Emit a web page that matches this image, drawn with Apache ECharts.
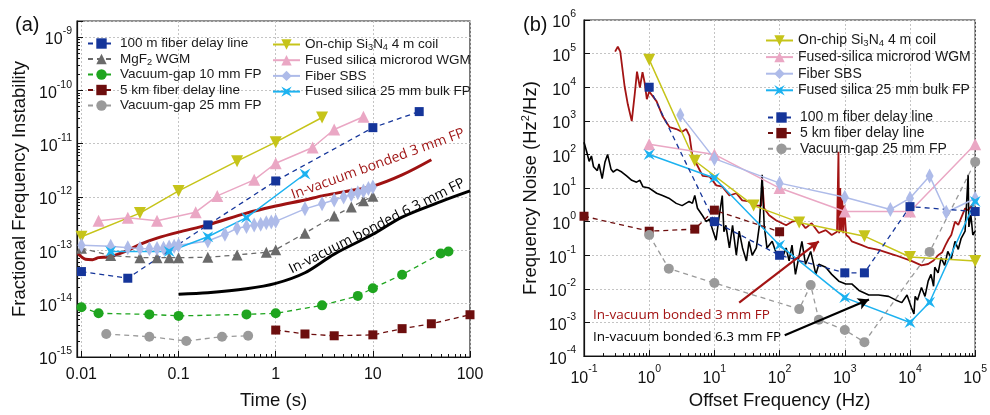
<!DOCTYPE html>
<html><head><meta charset="utf-8">
<script src="https://cdn.jsdelivr.net/npm/echarts@6/dist/echarts.min.js"></script>
<style>html,body{margin:0;padding:0;background:#fff}#c{width:990px;height:415px}</style>
</head><body><div id="c"></div>
<script>
// ===== Panel (a): fractional frequency instability vs time =====
const a_xTickVals = [0.01, 0.1, 1, 10, 100];
const a_xTickLabels = ['0.01', '0.1', '1', '10', '100'];
const a_yTickExps = [-15, -14, -13, -12, -11, -10, -9];

const a_fiber100_t = [0.01, 0.03, 0.2, 1, 10, 30];
const a_fiber100_v = [4e-14, 3e-14, 3e-13, 2e-12, 2e-11, 4e-11];
const a_mgf2_t = [0.01, 0.02, 0.04, 0.06, 0.08, 0.1, 0.2, 0.4, 0.8, 1, 2, 4, 6, 8, 10];
const a_mgf2_v = [1.1e-13, 8e-14, 7.3e-14, 7.3e-14, 7.3e-14, 7.3e-14, 7.4e-14, 8.2e-14, 9.2e-14, 1.03e-13, 2.1e-13, 4.4e-13, 6.5e-13, 8.5e-13, 1.03e-12];
const a_vg10_t = [0.01, 0.015, 0.05, 0.1, 0.5, 1, 3, 7, 10, 20, 50, 60];
const a_vg10_v = [8.6e-15, 6.6e-15, 6.3e-15, 5.9e-15, 6.3e-15, 6.6e-15, 9.3e-15, 1.4e-14, 1.95e-14, 3.5e-14, 8.7e-14, 9.5e-14];
const a_fiber5k_t = [1, 2, 4, 10, 20, 40, 100];
const a_fiber5k_v = [3.2e-15, 2.7e-15, 2.5e-15, 2.6e-15, 3.4e-15, 4.2e-15, 6.2e-15];
const a_vg25_t = [0.018, 0.05, 0.12, 0.28, 0.52];
const a_vg25_v = [2.7e-15, 2.4e-15, 2e-15, 2.4e-15, 2.5e-15];
const a_sin_t = [0.01, 0.04, 0.1, 0.4, 1, 3];
const a_sin_v = [1.8e-13, 5e-13, 1.3e-12, 4.7e-12, 1.07e-11, 3.1e-11];
const a_rod_t = [0.015, 0.03, 0.06, 0.15, 0.25, 0.6, 1, 2.4, 4, 8];
const a_rod_v = [3.6e-13, 4.1e-13, 3.6e-13, 5.2e-13, 1.05e-12, 2.1e-12, 4.3e-12, 8.5e-12, 1.85e-11, 3.2e-11];
const a_sbs_t = [0.01, 0.02, 0.03, 0.04, 0.05, 0.06, 0.07, 0.08, 0.09, 0.1, 0.2, 0.3, 0.4, 0.5, 0.6, 0.7, 0.8, 0.9, 1, 2, 3, 4, 5, 6, 7, 8, 9, 10];
const a_sbs_v = [1.25e-13, 1.2e-13, 1.12e-13, 1.08e-13, 1.07e-13, 1.08e-13, 1.1e-13, 1.15e-13, 1.2e-13, 1.25e-13, 1.5e-13, 2.0e-13, 2.6e-13, 2.8e-13, 3.0e-13, 3.1e-13, 3.3e-13, 3.4e-13, 3.5e-13, 6.0e-13, 7.5e-13, 8.8e-13, 1.0e-12, 1.1e-12, 1.2e-12, 1.3e-12, 1.45e-12, 1.55e-12];
const a_fs25_t = [0.02, 0.08, 0.2, 0.5, 2];
const a_fs25_v = [9.5e-14, 9.5e-14, 1.8e-13, 4.1e-13, 2.7e-12];
const a_bond3_t = [0.0092, 0.011, 0.013, 0.015, 0.02, 0.03, 0.04, 0.06, 0.1, 0.2, 0.5, 1, 2, 3, 5, 10, 20, 40];
const a_bond3_v = [8.7e-14, 6.8e-14, 6.7e-14, 7.3e-14, 7.6e-14, 1.0e-13, 1.3e-13, 1.7e-13, 2.2e-13, 3e-13, 5e-13, 6.8e-13, 8.8e-13, 1.05e-12, 1.25e-12, 1.6e-12, 2.6e-12, 5e-12];
const a_bond6_t = [0.1, 0.2, 0.5, 1, 2, 4, 10, 20, 50, 100];
const a_bond6_v = [1.5e-14, 1.6e-14, 1.9e-14, 2.4e-14, 3.8e-14, 8.5e-14, 2e-13, 4.2e-13, 8.2e-13, 1.3e-12];

// ===== Panel (b): frequency noise vs offset frequency =====
const b_xTickExps = [-1, 0, 1, 2, 3, 4, 5];
const b_yTickExps = [-4, -3, -2, -1, 0, 1, 2, 3, 4, 5, 6];

const b_sin_f = [1, 5, 40, 200, 2000, 1e4, 1e5];
const b_sin_v = [6.6e4, 65, 3, 0.95, 0.37, 0.089, 0.068];
const b_rod_f = [1, 10, 100, 1000, 1e4, 1e5];
const b_rod_v = [200, 100, 10, 2, 2, 200];
const b_sbs_f = [3, 10, 100, 1000, 5000, 1e4, 2e4, 3.6e4, 1e5];
const b_sbs_v = [1500, 75, 14, 5.3, 2.3, 5, 23, 1.9, 4.9];
const b_fs25_f = [1, 10, 100, 1000, 1e4, 2e4, 1e5];
const b_fs25_v = [100, 20, 0.2, 0.0055, 0.001, 0.004, 4];
const b_fiber100_f = [1, 10, 100, 1000, 2000, 1e4, 1e5];
const b_fiber100_v = [1e4, 1, 0.1, 0.03, 0.03, 2.8, 2];
const b_fiber5k_f = [0.1, 1, 5, 10, 100];
const b_fiber5k_v = [1.45, 0.52, 0.6, 2.2, 0.5];
const b_vg25_f = [1, 2, 10, 200, 300, 400, 1000, 2000, 2e4, 1e5];
const b_vg25_v = [0.4, 0.04, 0.015, 0.0025, 0.013, 0.0012, 6e-4, 2.6e-4, 0.126, 60];
const b_bond3_f = [0.30,0.33,0.36,0.42,0.47,0.54,0.60,0.65,0.72,0.79,0.85,0.92,1.0,1.3,1.6,2.05,2.6,3.2,3.7,4.15,4.6,5.5,6.6,8.4,10.7,13.2,17,21.7,26.7,34,44,52,55,58,69,88,126,155,200,250,310,400,510,630,760,800,820,850,880,910,950,980,1050,1150,1280,1820,2330,3300,6000,10500,15000,19000,23000,27000,31000,35000,39000,43000,49000,55000,61000,70000,78000,88000,100000];
const b_bond3_v = [1.15e5,1.6e5,1.15e5,1.05e4,3.1e3,980,6.2e3,2.9e4,9.8e3,2.8e4,1.4e4,4.4e3,7.5e3,3.8e3,1.4e3,650,570,470,570,355,91,46,23,22,12,11,6,7,4.3,4,3,3,11,2.5,1.55,1.1,0.78,1.0,1.1,0.64,0.9,0.46,0.56,0.4,0.5,120,0.45,10,0.5,6,0.45,3,0.4,0.35,0.26,0.2,0.165,0.144,0.1,0.068,0.05,0.055,0.07,0.1,0.12,0.2,0.3,0.4,1.0,0.8,1.3,2.5,2.2,3,4];
const b_bond6_f = [0.10,0.11,0.12,0.13,0.14,0.16,0.17,0.19,0.21,0.23,0.26,0.28,0.32,0.38,0.45,0.54,0.64,0.72,0.8,1.0,1.3,1.6,2.0,2.6,3.2,4.1,4.6,5.0,5.5,6.6,7.5,8.4,9.3,10.6,11.9,13.2,14,15,17,19,21.7,24,27,31,34,38,44,49,54,58,64,77,91,110,126,140,155,175,200,220,250,300,360,400,510,630,810,1035,1280,1650,2330,3300,4700,6000,7500,9000,10500,11500,12000,13000,15000,17000,19000,21000,23000,24000,27000,30000,34000,38000,43000,49000,55000,61000,70000,78000,80000,86000,92000,100000];
const b_bond6_v = [230,120,62,90,43,33,52,19,60,100,36,30,36,30,23,17,15,17,11,10,7,6,5,3.5,3,4,3.5,6,2.5,1.5,1.0,1.2,0.6,0.28,1.55,6,0.5,0.78,0.165,0.78,0.1,0.52,0.165,0.068,0.26,0.1,0.165,0.78,25,0.78,0.165,0.26,0.1,0.085,0.165,0.068,0.2,0.027,0.1,0.26,0.054,0.13,0.027,0.054,0.044,0.027,0.017,0.014,0.014,0.009,0.0066,0.0066,0.006,0.0047,0.0039,0.0066,0.0028,0.0018,0.006,0.0046,0.011,0.006,0.017,0.027,0.012,0.044,0.03,0.085,0.05,0.13,0.08,0.26,0.15,0.32,0.52,25,0.7,1.55,0.4,0.52];

// annotation arrows (data coordinates: start -> tip)
const b_arrow3 = [[24, 0.0039], [400, 0.26]];
const b_arrow6 = [[120, 4.2e-4], [2350, 0.0048]];

// ===== styling =====
const C = {
  fiber100: '#15359a', mgf2: '#6a6a6a', vg10: '#1fa51f', fiber5k: '#6d0e0e', vg25: '#9a9a9a',
  sin: '#c6c41a', rod: '#eaa7c4', sbs: '#aebbe9', fs25: '#1cb2f0', bond3: '#9e1212', bond6: '#000000'
};
const FONT = 'Liberation Sans, Arial, Helvetica, sans-serif';
const STAR = 'path://M0,0L5,3L10,0L7,5L10,10L5,7L0,10L3,5Z';
const pairs = (xs, ys) => xs.map((x, i) => [x, ys[i]]);
const supRich = {
  b: { fontSize: 16, lineHeight: 22, verticalAlign: 'bottom', fontFamily: FONT, color: '#111' },
  e: { fontSize: 10.5, lineHeight: 10, verticalAlign: 'top', fontFamily: FONT, color: '#111' }
};
function powLabel(exps) {
  return v => { const l = Math.log10(v), r = Math.round(l);
    if (Math.abs(l - r) > 1e-6 || exps.indexOf(r) < 0) return '';
    return '{b|10}{e|' + r + '}'; };
}
function listLabel(vals, labels) {
  return v => { for (let i = 0; i < vals.length; i++) if (Math.abs(Math.log10(v) - Math.log10(vals[i])) < 1e-6) return labels[i]; return ''; };
}
const gridLine = { show: true, lineStyle: { color: '#c4c4c4', type: [2, 2], width: 1 } };
const axLine = { show: true, lineStyle: { color: '#111', width: 1.2 } };

function ser(name, xi, data, color, symbol, size, dashed, extra) {
  return Object.assign({
    name, type: 'line', xAxisIndex: xi, yAxisIndex: xi, data,
    symbol, symbolSize: size, showSymbol: true, color,
    itemStyle: { color },
    lineStyle: { color, width: dashed ? 1.3 : 1.5, type: dashed ? [5, 4] : 'solid' },
    emphasis: { disabled: true }, z: 3
  }, extra || {});
}
function curve(name, xi, data, color, width, smooth) {
  return { name, type: 'line', xAxisIndex: xi, yAxisIndex: xi, data, showSymbol: false, symbol: 'none',
    smooth: smooth ? 0.3 : false, lineStyle: { color, width }, itemStyle: { color }, emphasis: { disabled: true }, z: 2 };
}

const series = [
  // panel (a)
  curve('a3', 0, pairs(a_bond3_t, a_bond3_v), C.bond3, 3, true),
  curve('a6', 0, pairs(a_bond6_t, a_bond6_v), C.bond6, 3, true),
  ser('100 m fiber delay line', 0, pairs(a_fiber100_t, a_fiber100_v), C.fiber100, 'rect', 9, true),
  ser('MgF2 WGM', 0, pairs(a_mgf2_t, a_mgf2_v), C.mgf2, 'triangle', 11, true),
  ser('Vacuum-gap 10 mm FP', 0, pairs(a_vg10_t, a_vg10_v), C.vg10, 'circle', 10, true),
  ser('5 km fiber delay line', 0, pairs(a_fiber5k_t, a_fiber5k_v), C.fiber5k, 'rect', 9, true),
  ser('Vacuum-gap 25 mm FP', 0, pairs(a_vg25_t, a_vg25_v), C.vg25, 'circle', 10, true),
  ser('On-chip Si3N4 4 m coil', 0, pairs(a_sin_t, a_sin_v), C.sin, 'triangle', 12, false, { symbolRotate: 180 }),
  ser('Fused silica microrod WGM', 0, pairs(a_rod_t, a_rod_v), C.rod, 'triangle', 12, false),
  ser('Fiber SBS', 0, pairs(a_sbs_t, a_sbs_v), C.sbs, 'diamond', [8, 15], false),
  ser('Fused silica 25 mm bulk FP', 0, pairs(a_fs25_t, a_fs25_v), C.fs25, STAR, 11, false),
  // panel (b)
  Object.assign(curve('b3', 1, pairs(b_bond3_f, b_bond3_v), '#a31414', 1.8, false), {
    markLine: { silent: true, symbol: ['none', 'arrow'], symbolSize: [9, 11], label: { show: false },
      lineStyle: { color: '#a31414', width: 2.2, type: 'solid' }, animation: false,
      data: [[{ coord: b_arrow3[0] }, { coord: b_arrow3[1] }]] } }),
  Object.assign(curve('b6', 1, pairs(b_bond6_f, b_bond6_v), C.bond6, 1.6, false), {
    markLine: { silent: true, symbol: ['none', 'arrow'], symbolSize: [9, 11], label: { show: false },
      lineStyle: { color: '#000', width: 2.2, type: 'solid' }, animation: false,
      data: [[{ coord: b_arrow6[0] }, { coord: b_arrow6[1] }]] } }),
  ser('On-chip Si3N4 4 m coil', 1, pairs(b_sin_f, b_sin_v), C.sin, 'triangle', 12, false, { symbolRotate: 180 }),
  ser('Fused-silica microrod WGM', 1, pairs(b_rod_f, b_rod_v), C.rod, 'triangle', 12, false),
  ser('Fiber SBS', 1, pairs(b_sbs_f, b_sbs_v), C.sbs, 'diamond', [8, 15], false),
  ser('Fused silica 25 mm bulk FP', 1, pairs(b_fs25_f, b_fs25_v), C.fs25, STAR, 11, false),
  ser('100 m fiber delay line', 1, pairs(b_fiber100_f, b_fiber100_v), C.fiber100, 'rect', 9, true),
  ser('5 km fiber delay line', 1, pairs(b_fiber5k_f, b_fiber5k_v), C.fiber5k, 'rect', 9, true),
  ser('Vacuum-gap 25 mm FP', 1, pairs(b_vg25_f, b_vg25_v), C.vg25, 'circle', 10, true)
];

function legend(names, left, top, gap, fs) {
  return { data: names, left, top, orient: 'vertical', itemWidth: 27, itemHeight: 13, itemGap: gap,
    selectedMode: false, inactiveColor: '#222',
    formatter: n => n.replace('MgF2', 'MgF{s|2}').replace('Si3N4', 'Si{s|3}N{s|4}'),
    textStyle: { fontSize: fs, fontFamily: FONT, color: '#1a1a1a', lineHeight: 15,
      rich: { s: { fontSize: fs * 0.68, lineHeight: 6, verticalAlign: 'bottom', fontFamily: FONT, color: '#1a1a1a' } } } };
}

const option = {
  animation: false,
  backgroundColor: '#fff',
  title: [
    { text: '(a)', left: 10, top: 10, textStyle: { fontSize: 20, fontWeight: 'normal', fontFamily: FONT, color: '#111' } },
    { text: '(b)', left: 518, top: 10, textStyle: { fontSize: 20, fontWeight: 'normal', fontFamily: FONT, color: '#111' } }
  ],
  grid: [
    { left: 77, right: 520, top: 21, bottom: 56, show: true, borderColor: '#222', borderWidth: 1.2, backgroundColor: 'transparent' },
    { left: 584, right: 13, top: 20, bottom: 56, show: true, borderColor: '#222', borderWidth: 1.2, backgroundColor: 'transparent' }
  ],
  xAxis: [
    { gridIndex: 0, type: 'log', logBase: 10, min: 0.009, max: 100,
      name: 'Time (s)', nameLocation: 'middle', nameGap: 34,
      nameTextStyle: { fontSize: 18.5, fontFamily: FONT, color: '#111' },
      axisLine: axLine, axisTick: { show: true, inside: true, length: 6, lineStyle: { color: '#111' } },
      minorTick: { show: true, splitNumber: 9, length: 3, lineStyle: { color: '#111' } },
      splitLine: gridLine,
      axisLabel: { margin: 10, fontSize: 16, fontFamily: FONT, color: '#111', formatter: listLabel(a_xTickVals, a_xTickLabels), showMinLabel: true, showMaxLabel: true } },
    { gridIndex: 1, type: 'log', logBase: 10, min: 0.1, max: 1e5, interval: 1,
      name: 'Offset Frequency (Hz)', nameLocation: 'middle', nameGap: 34,
      nameTextStyle: { fontSize: 18.5, fontFamily: FONT, color: '#111' },
      axisLine: axLine, axisTick: { show: true, inside: true, length: 6, lineStyle: { color: '#111' } },
      minorTick: { show: true, splitNumber: 9, length: 3, lineStyle: { color: '#111' } },
      splitLine: gridLine,
      axisLabel: { margin: 8, formatter: powLabel(b_xTickExps), rich: supRich } }
  ],
  yAxis: [
    { gridIndex: 0, type: 'log', logBase: 10, min: 1e-15, max: 2e-9, interval: 1,
      name: 'Fractional Frequency Instability', nameLocation: 'middle', nameGap: 48,
      nameTextStyle: { fontSize: 18.5, fontFamily: FONT, color: '#111' },
      axisLine: axLine, axisTick: { show: true, inside: true, length: 6, lineStyle: { color: '#111' } },
      minorTick: { show: true, splitNumber: 9, length: 3, lineStyle: { color: '#111' } },
      splitLine: gridLine,
      axisLabel: { margin: 5, formatter: powLabel(a_yTickExps), rich: supRich } },
    { gridIndex: 1, type: 'log', logBase: 10, min: 1e-4, max: 1e6, interval: 1,
      name: 'Frequency Noise (Hz{p|2}/Hz)', nameLocation: 'middle', nameGap: 42,
      nameTextStyle: { fontSize: 18.5, fontFamily: FONT, color: '#111', lineHeight: 22,
        rich: { p: { fontSize: 11, lineHeight: 10, verticalAlign: 'top', fontFamily: FONT, color: '#111' } } },
      axisLine: axLine, axisTick: { show: true, inside: true, length: 6, lineStyle: { color: '#111' } },
      splitLine: gridLine,
      axisLabel: { margin: 8, formatter: powLabel(b_yTickExps), rich: supRich } }
  ],
  legend: [
    legend(['100 m fiber delay line', 'MgF2 WGM', 'Vacuum-gap 10 mm FP', '5 km fiber delay line', 'Vacuum-gap 25 mm FP'], 82, 31, 0.5, 13.5),
    legend(['On-chip Si3N4 4 m coil', 'Fused silica microrod WGM', 'Fiber SBS', 'Fused silica 25 mm bulk FP'], 267, 32, 0.7, 13.5),
    legend(['On-chip Si3N4 4 m coil', 'Fused-silica microrod WGM', 'Fiber SBS', 'Fused silica 25 mm bulk FP'], 760, 28, 1.6, 14),
    legend(['100 m fiber delay line', '5 km fiber delay line', 'Vacuum-gap 25 mm FP'], 762, 105, 0.6, 14)
  ],
  graphic: [
    { type: 'text', x: 378, y: 164, rotation: 20 * Math.PI / 180, z: 10,
      style: { text: 'In-vacuum bonded 3 mm FP', fill: '#9e1212', font: '14px "Open Sans", sans-serif', align: 'center', verticalAlign: 'middle' } },
    { type: 'text', x: 377, y: 226, rotation: 26.8 * Math.PI / 180, z: 10,
      style: { text: 'In-vacuum bonded 6.3 mm FP', fill: '#000', font: '14px "Open Sans", sans-serif', align: 'center', verticalAlign: 'middle' } },
    { type: 'text', x: 593, y: 315, z: 10,
      style: { text: 'In-vacuum bonded 3 mm FP', fill: '#a31414', font: '13.5px "Open Sans", sans-serif', align: 'left', verticalAlign: 'middle' } },
    { type: 'text', x: 593, y: 337, z: 10,
      style: { text: 'In-vacuum bonded 6.3 mm FP', fill: '#000', font: '13.5px "Open Sans", sans-serif', align: 'left', verticalAlign: 'middle' } }
  ],
  series
};
const chart = echarts.init(document.getElementById('c'), null, { renderer: 'canvas' });
chart.setOption(option);
</script></body></html>
